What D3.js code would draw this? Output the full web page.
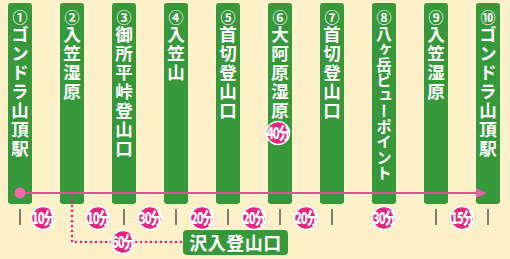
<!DOCTYPE html>
<html>
<head>
<meta charset="utf-8">
<script src="https://cdn.jsdelivr.net/npm/d3@7"></script>
<style>
  html, body { margin: 0; padding: 0; background: #fcf1c9; }
  svg { display: block; }
</style>
</head>
<body>
<div id="chart"></div>
<script>
// stations along the route, left to right
var stations = ["ゴンドラ山頂駅", "入笠湿原", "御所平峠登山口", "入笠山", "首切登山口",
                "大阿原湿原", "首切登山口", "八ヶ岳ビューポイント", "入笠湿原", "ゴンドラ山頂駅"];
var nums = ["①", "②", "③", "④", "⑤", "⑥", "⑦", "⑧", "⑨", "⑩"];
// walking time between stations (minutes)
var legFrom = [0, 1, 2, 3, 4, 5, 6, 8];
var legTo   = [1, 2, 3, 4, 5, 6, 8, 9];
var legMin  = [10, 10, 30, 20, 20, 20, 30, 15];
var tickAt = [0, 2, 3, 4, 5, 6, 8, 9];
// stay at 大阿原湿原
var stayAt = 5, stayMin = 40;
// branch from 入笠湿原 to 沢入登山口
var branchFrom = 1, branchName = "沢入登山口", branchMin = 60;

var width = 510, height = 259;
var barTop = 3, barBottom = 204, barW = 24;
var lineY = 193, badgeY = 218, branchY = 242;

var green = "#37983b", pink = "#e0287f";
var font = "'Noto Sans CJK JP', sans-serif";

var svg = d3.select("#chart").append("svg")
    .attr("width", width)
    .attr("height", height);

var x = d3.scalePoint()
    .domain(d3.range(stations.length))
    .range([20, 488]);

// station bars
var bars = svg.append("g");
bars.selectAll("rect")
  .data(stations)
  .enter()
  .append("rect")
    .attr("x", function(d, i) { return x(i) - barW / 2; })
    .attr("y", barTop)
    .attr("width", barW)
    .attr("height", barBottom - barTop)
    .attr("rx", 3)
    .attr("fill", green);

bars.selectAll("text.num")
  .data(nums)
  .enter()
  .append("text")
    .attr("class", "num")
    .attr("x", function(d, i) { return x(i); })
    .attr("y", 23)
    .attr("text-anchor", "middle")
    .style("font-family", font)
    .style("font-size", "15px")
    .style("font-weight", "bold")
    .attr("fill", "#fff")
    .text(function(d) { return d; });

bars.selectAll("text.name")
  .data(stations)
  .enter()
  .append("text")
    .attr("class", "name")
    .attr("x", function(d, i) { return x(i); })
    .attr("y", 26)
    .style("writing-mode", "vertical-rl")
    .style("font-family", font)
    .style("font-weight", "bold")
    .style("font-size", function(d) { return d.length > 8 ? "15.5px" : "17.5px"; })
    .style("letter-spacing", function(d) { return d.length > 8 ? "0px" : "1.5px"; })
    .attr("fill", "#fff")
    .text(function(d) { return d; });

// ticks under the bars
svg.append("g").selectAll("line")
  .data(tickAt)
  .enter()
  .append("line")
    .attr("x1", function(d) { return x(d); })
    .attr("x2", function(d) { return x(d); })
    .attr("y1", 209)
    .attr("y2", 225)
    .attr("stroke", "#555")
    .attr("stroke-width", 1.5);

// branch dotted path
svg.append("path")
    .attr("d", "M" + x(branchFrom) + "," + (lineY + 3) + " V" + branchY + " H190")
    .attr("fill", "none")
    .attr("stroke", pink)
    .attr("stroke-width", 2.6)
    .attr("stroke-linecap", "round")
    .attr("stroke-dasharray", "0,5");

// main route
svg.append("line")
    .attr("x1", x(0))
    .attr("x2", x(stations.length - 1) - 8)
    .attr("y1", lineY)
    .attr("y2", lineY)
    .attr("stroke", "#e4508a")
    .attr("stroke-width", 2);
svg.append("circle")
    .attr("cx", x(0))
    .attr("cy", lineY)
    .attr("r", 5.5)
    .attr("fill", "#ee6aa8");
var tip = x(stations.length - 1) - 1;
svg.append("path")
    .attr("d", "M" + tip + "," + lineY + " L" + (tip - 11) + "," + (lineY - 5) + " L" + (tip - 11) + "," + (lineY + 5) + "Z")
    .attr("fill", "#e45fa6");

// branch destination box
var box = svg.append("g");
box.append("rect")
    .attr("x", 183)
    .attr("y", 230)
    .attr("width", 105)
    .attr("height", 25)
    .attr("rx", 4)
    .attr("fill", green);
box.append("text")
    .attr("x", 235.5)
    .attr("y", 249.5)
    .attr("text-anchor", "middle")
    .style("font-family", font)
    .style("font-size", "18px")
    .style("font-weight", "bold")
    .style("letter-spacing", "0.5px")
    .attr("fill", "#fff")
    .text(branchName);

// time badges
function badge(cx, cy, m) {
  var g = svg.append("g").attr("transform", "translate(" + cx + "," + cy + ")");
  g.append("circle")
      .attr("r", 11.5)
      .attr("fill", pink)
      .attr("stroke", "#fff")
      .attr("stroke-width", 1.5);
  g.append("text")
      .attr("y", 5.5)
      .attr("text-anchor", "middle")
      .attr("transform", "scale(0.72,1)")
      .style("font-family", font)
      .style("font-size", "16px")
      .style("font-weight", "900")
      .style("letter-spacing", "-1.5px")
      .attr("fill", "#fff")
      .text(m + "分");
}
legMin.forEach(function(m, i) {
  badge((x(legFrom[i]) + x(legTo[i])) / 2 - (i === 0 ? 3 : 0), badgeY, m);
});
badge(x(stayAt) - 2, 133, stayMin);
badge(123, branchY, branchMin);
</script>
</body>
</html>
